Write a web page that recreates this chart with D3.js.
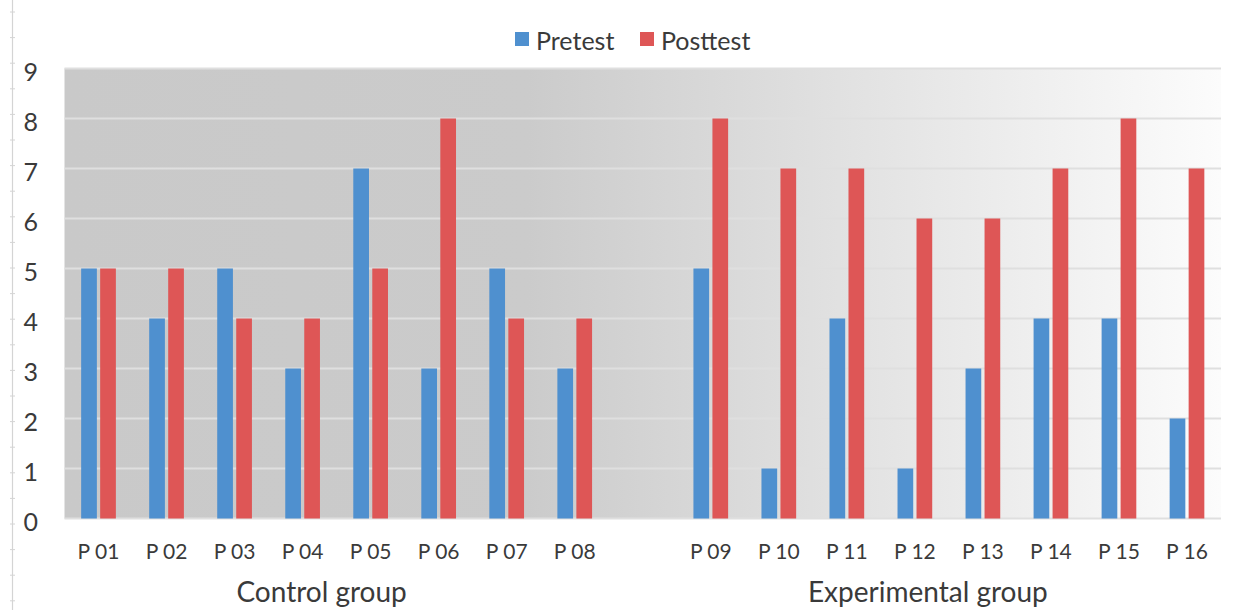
<!DOCTYPE html>
<html>
<head>
<meta charset="utf-8">
<script src="https://cdn.jsdelivr.net/npm/d3@7"></script>
<style>
  html, body { margin: 0; padding: 0; background: #ffffff; }
  svg { display: block; }
  text { font-family: Lato, "Open Sans", sans-serif; fill: #3a3a3a; }
</style>
</head>
<body>
<svg id="chart" width="1235" height="610"></svg>
<script>
// ---- data ----
const controlCategories = ["P 01", "P 02", "P 03", "P 04", "P 05", "P 06", "P 07", "P 08"];
const experimentalCategories = ["P 09", "P 10", "P 11", "P 12", "P 13", "P 14", "P 15", "P 16"];
const groupNames = ["Control group", "Experimental group"];
const seriesNames = ["Pretest", "Posttest"];
const pretest  = [5, 4, 5, 3, 7, 3, 5, 3, 5, 1, 4, 1, 3, 4, 4, 2];
const posttest = [5, 5, 4, 4, 5, 8, 4, 4, 8, 7, 7, 6, 6, 7, 8, 7];
const yTicks = [0, 1, 2, 3, 4, 5, 6, 7, 8, 9];

const colors = { "Pretest": "#4f90cf", "Posttest": "#de5656" };

const svg = d3.select("#chart");
const W = 1235, H = 610;
const plot = { left: 64.5, right: 1221, top: 68.5, bottom: 518.5 };

// left ruler decoration
const rulerX = 12.5;
svg.append("line").attr("x1", rulerX).attr("x2", rulerX).attr("y1", 0).attr("y2", H)
  .attr("stroke", "#d4d4d4").attr("stroke-width", 1.2);
svg.append("g").selectAll("line").data(d3.range(12, H, 25.6)).join("line")
  .attr("x1", rulerX - 2.5).attr("x2", rulerX + 2.5)
  .attr("y1", d => d).attr("y2", d => d)
  .attr("stroke", "#d4d4d4").attr("stroke-width", 1);

// domain: control slots + blank gap + experimental slots
const gapKey = "__gap__";
const allCategories = controlCategories.concat(experimentalCategories);
const domain = controlCategories.concat([gapKey], experimentalCategories);

const x = d3.scaleBand().domain(domain).range([plot.left, plot.right]).paddingInner(0).paddingOuter(0);
const y = d3.scaleLinear().domain([0, 9]).range([plot.bottom, plot.top]);

const barW = 15.7, barGap = 3.3;
const x1 = d3.scaleOrdinal().domain(seriesNames).range([-(barW + barGap / 2), barGap / 2]);

// background gradient
const defs = svg.append("defs");
const grad = defs.append("linearGradient").attr("id", "bg").attr("x1", "0%").attr("x2", "100%").attr("y1", "0%").attr("y2", "0%");
grad.append("stop").attr("offset", "0%").attr("stop-color", "#c9c9c9");
grad.append("stop").attr("offset", "40%").attr("stop-color", "#cbcbcb");
grad.append("stop").attr("offset", "100%").attr("stop-color", "#fcfcfc");

svg.append("rect")
  .attr("x", plot.left).attr("y", y(9))
  .attr("width", plot.right - plot.left).attr("height", y(0) - y(9))
  .attr("fill", "url(#bg)");

// gridlines
svg.append("g").selectAll("line").data(yTicks).join("line")
  .attr("x1", plot.left).attr("x2", plot.right)
  .attr("y1", d => y(d)).attr("y2", d => y(d))
  .attr("stroke", "#dfdfdf").attr("stroke-width", 2);

// y axis labels
const yAxis = d3.axisLeft(y).tickValues(yTicks).tickSize(0).tickPadding(0).tickFormat(d3.format("d"));
const yG = svg.append("g").attr("transform", `translate(38,0)`).call(yAxis);
yG.select(".domain").remove();
yG.selectAll("text")
  .attr("font-size", 25).attr("font-family", "Lato, 'Open Sans', sans-serif")
  .attr("fill", "#3a3a3a").attr("dy", "0.48em");

// bars
const rows = allCategories.map((c, i) => ({ cat: c, Pretest: pretest[i], Posttest: posttest[i] }));
const barG = svg.append("g");
seriesNames.forEach(s => {
  barG.append("g").selectAll("rect").data(rows).join("rect")
    .attr("x", d => x(d.cat) + x.bandwidth() / 2 + x1(s))
    .attr("y", d => y(d[s]))
    .attr("width", barW)
    .attr("height", d => y(0) - y(d[s]))
    .attr("fill", colors[s]);
});

// x axis labels
const xAxis = d3.axisBottom(x).tickSize(0).tickPadding(0).tickFormat(d => d === gapKey ? "" : d);
const xG = svg.append("g").attr("transform", `translate(0,${plot.bottom})`).call(xAxis);
xG.select(".domain").remove();
xG.selectAll("text")
  .attr("font-size", 21).attr("font-family", "Lato, 'Open Sans', sans-serif")
  .attr("fill", "#3a3a3a").attr("y", 40).attr("dy", 0);

// group labels
const groups = [controlCategories, experimentalCategories];
const groupOffset = [-15, -21];
svg.append("g").selectAll("text").data(groupNames).join("text")
  .attr("x", (d, i) => {
    const cats = groups[i];
    const a = x(cats[0]), b = x(cats[cats.length - 1]) + x.bandwidth();
    return (a + b) / 2 + groupOffset[i];
  })
  .attr("y", 602)
  .attr("text-anchor", "middle")
  .attr("font-size", 28)
  .text(d => d);

// legend
const legend = svg.append("g");
const legendItems = [{ name: "Pretest", x: 515 }, { name: "Posttest", x: 640 }];
legendItems.forEach(it => {
  legend.append("rect").attr("x", it.x).attr("y", 32).attr("width", 14).attr("height", 14).attr("fill", colors[it.name]);
  legend.append("text").attr("x", it.x + 21).attr("y", 50).attr("font-size", 25).text(it.name);
});
</script>
</body>
</html>
